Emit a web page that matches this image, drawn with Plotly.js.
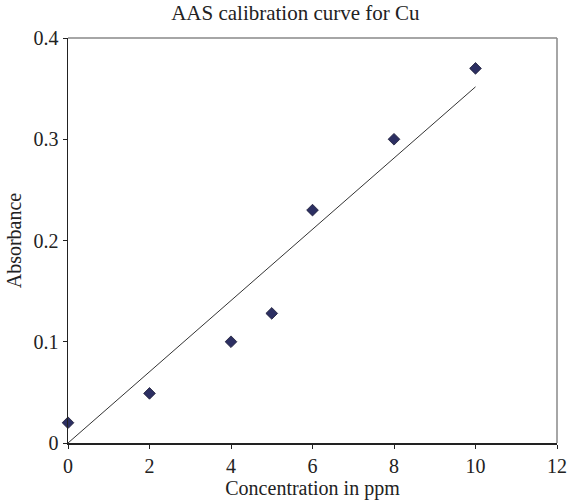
<!DOCTYPE html>
<html>
<head>
<meta charset="utf-8">
<script src="https://cdn.plot.ly/plotly-3.0.1.min.js"></script>
<style>html,body{margin:0;padding:0;background:#fff;}#chart{width:568px;height:500px;}</style>
</head>
<body>
<div id="chart"></div>
<script>
const concentration = [0, 2, 4, 5, 6, 8, 10];
const absorbance = [0.02, 0.049, 0.1, 0.128, 0.23, 0.3, 0.37];
const xTicks = [0, 2, 4, 6, 8, 10, 12];
const yTicks = [0, 0.1, 0.2, 0.3, 0.4];
const yTickLabels = ['0', '0.1', '0.2', '0.3', '0.4'];

// Linear trendline through origin (least squares)
let sxy = 0, sxx = 0;
for (let i = 0; i < concentration.length; i++) {
  sxy += concentration[i] * absorbance[i];
  sxx += concentration[i] * concentration[i];
}
const slope = sxy / sxx;
const xMin = Math.min(...concentration), xMax = Math.max(...concentration);
const trendX = [xMin, xMax];
const trendY = trendX.map(x => slope * x);

const font = '"Liberation Serif", "Times New Roman", serif';
const txt = '#222222';

const data = [
  {x: trendX, y: trendY, mode: 'lines', type: 'scatter',
   line: {color: '#333333', width: 1}, hoverinfo: 'skip', showlegend: false},
  {x: concentration, y: absorbance, mode: 'markers', type: 'scatter',
   marker: {symbol: 'diamond', size: 9, color: '#2c2f62', line: {color: '#1a1a33', width: 0.8}},
   showlegend: false, cliponaxis: false}
];

const layout = {
  width: 568, height: 500,
  margin: {l: 68, r: 11, t: 38, b: 57},
  paper_bgcolor: '#ffffff', plot_bgcolor: '#ffffff',
  font: {family: font, color: txt, size: 20},
  title: {text: 'AAS calibration curve for Cu', font: {family: font, size: 21, color: txt},
          x: 0.52, xanchor: 'center', y: 0.975, yanchor: 'middle'},
  xaxis: {range: [0, 12], tickvals: xTicks, ticktext: xTicks.map(String), showgrid: false, zeroline: false,
          showline: true, linecolor: txt, linewidth: 1.5, ticks: 'outside', ticklen: 4, tickcolor: txt,
          tickfont: {family: font, size: 20, color: txt},
          title: {text: 'Concentration in ppm', font: {family: font, size: 20, color: txt}, standoff: 2}},
  yaxis: {range: [0, 0.4], tickvals: yTicks, ticktext: yTickLabels, showgrid: false, zeroline: false,
          showline: true, linecolor: txt, linewidth: 1.5, ticks: 'outside', ticklen: 4, tickcolor: txt,
          tickfont: {family: font, size: 20, color: txt},
          title: {text: 'Absorbance', font: {family: font, size: 20, color: txt}, standoff: 6}},
  shapes: [
    {type: 'line', xref: 'paper', yref: 'paper', x0: 0, x1: 1, y0: 1, y1: 1, line: {color: '#888888', width: 1.5}},
    {type: 'line', xref: 'paper', yref: 'paper', x0: 1, x1: 1, y0: 0, y1: 1, line: {color: '#888888', width: 1.5}}
  ]
};

Plotly.newPlot('chart', data, layout, {staticPlot: true, displayModeBar: false});
</script>
</body>
</html>
